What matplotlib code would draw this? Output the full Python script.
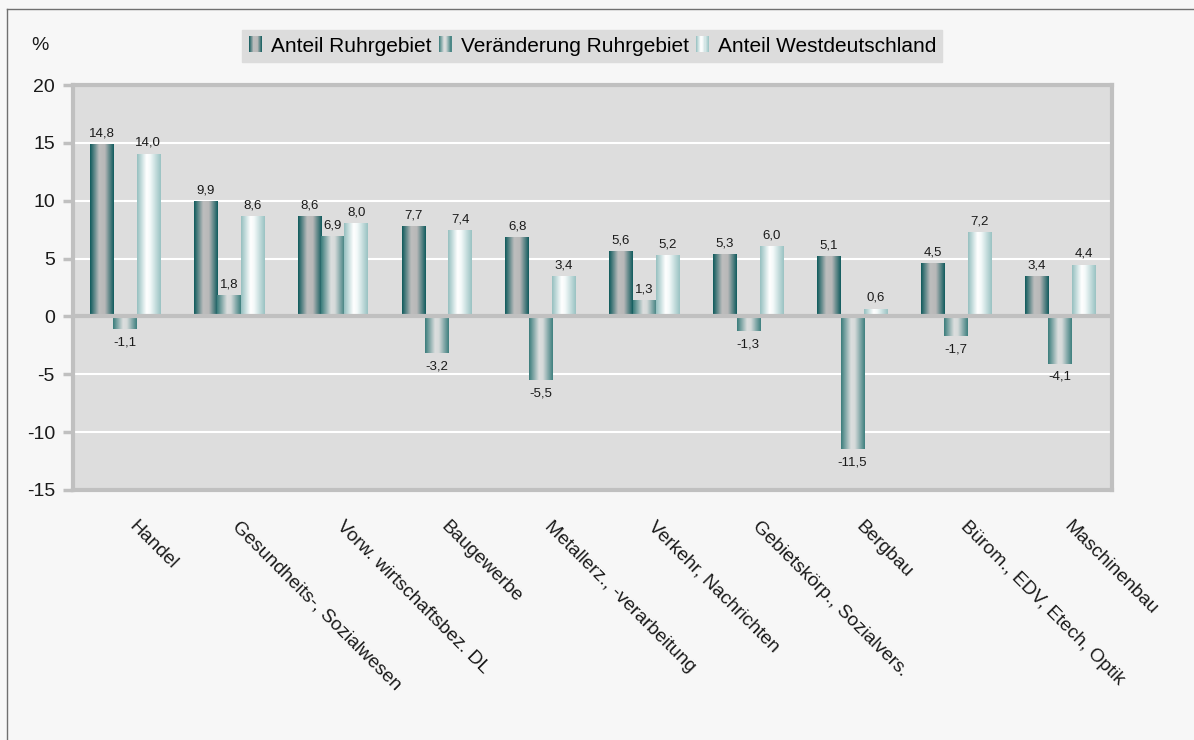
import matplotlib
matplotlib.use("Agg")
import matplotlib.pyplot as plt
import numpy as np
from matplotlib.colors import LinearSegmentedColormap
from matplotlib.legend_handler import HandlerBase
from matplotlib.lines import Line2D
from matplotlib.patches import Patch, Rectangle

CATEGORIES = [
    "Handel",
    "Gesundheits-, Sozialwesen",
    "Vorw. wirtschaftsbez. DL",
    "Baugewerbe",
    "Metallerz., -verarbeitung",
    "Verkehr, Nachrichten",
    "Gebietskörp., Sozialvers.",
    "Bergbau",
    "Bürom., EDV, Etech, Optik",
    "Maschinenbau",
]
SERIES_NAMES = ["Anteil Ruhrgebiet", "Veränderung Ruhrgebiet", "Anteil Westdeutschland"]
ANTEIL_RUHR = [14.8, 9.9, 8.6, 7.7, 6.8, 5.6, 5.3, 5.1, 4.5, 3.4]
VERAENDERUNG_RUHR = [-1.1, 1.8, 6.9, -3.2, -5.5, 1.3, -1.3, -11.5, -1.7, -4.1]
ANTEIL_WEST = [14.0, 8.6, 8.0, 7.4, 3.4, 5.2, 6.0, 0.6, 7.2, 4.4]
Y_TICKS = [-15, -10, -5, 0, 5, 10, 15, 20]

FIG_BG = "#f7f7f7"
PLOT_BG = "#dddddd"
FRAME = "#c0c0c0"
INK = "#1a1a1a"

GRADIENTS = [
    LinearSegmentedColormap.from_list("s1", [(0, "#0f5a5c"), (0.38, "#bdbdbd"),
                                             (0.62, "#b9b9b9"), (1, "#125c5e")]),
    LinearSegmentedColormap.from_list("s2", [(0, "#3b7d7c"), (0.42, "#dcdede"),
                                             (0.58, "#d6dada"), (1, "#3f807f")]),
    LinearSegmentedColormap.from_list("s3", [(0, "#96c0c0"), (0.4, "#ffffff"),
                                             (0.55, "#f4f9f9"), (1, "#9ac3c3")]),
]


def fill_gradient(ax, bars, cmap):
    grad = np.linspace(0, 1, 64).reshape(1, -1)
    for b in bars:
        x, y = b.get_x(), b.get_y()
        w, h = b.get_width(), b.get_height()
        ax.imshow(grad, cmap=cmap, aspect="auto", interpolation="bilinear",
                  extent=(x, x + w, y, y + h), zorder=2)
        b.set_facecolor("none")


class GradientHandler(HandlerBase):
    def create_artists(self, legend, orig_handle, xdescent, ydescent, width,
                       height, fontsize, trans):
        cmap = orig_handle.cmap
        n = 12
        w = 9.0
        h = height * 1.1
        x0 = xdescent + width - w - 2
        y0 = -ydescent - (h - height) / 2
        arts = []
        for i in range(n):
            arts.append(Rectangle((x0 + i * w / n, y0), w / n + 0.05, h,
                                  facecolor=cmap((i + 0.5) / n), edgecolor="none",
                                  transform=trans))
        return arts


plt.rcParams.update({
    "font.family": ["Liberation Sans", "DejaVu Sans"],
    "figure.facecolor": FIG_BG,
    "savefig.facecolor": FIG_BG,
})

fig = plt.figure(figsize=(11.94, 7.40), dpi=100)
ax = fig.add_axes([73 / 1194, 1 - 490 / 740, (1112 - 73) / 1194, (490 - 85) / 740])
ax.set_facecolor(PLOT_BG)

x = np.arange(len(CATEGORIES))
width = 0.225
series = [ANTEIL_RUHR, VERAENDERUNG_RUHR, ANTEIL_WEST]
for i, vals in enumerate(series):
    bars = ax.bar(x + (i - 1) * width, vals, width, linewidth=0, zorder=2)
    fill_gradient(ax, bars, GRADIENTS[i])
    for b, v in zip(bars, vals):
        cx = b.get_x() + b.get_width() / 2
        lbl = f"{v:.1f}".replace(".", ",")
        if v >= 0:
            ax.annotate(lbl, (cx, v), xytext=(0, 4), textcoords="offset points",
                        ha="center", va="bottom", fontsize=9.5, color=INK)
        else:
            ax.annotate(lbl, (cx, v), xytext=(0, -5), textcoords="offset points",
                        ha="center", va="top", fontsize=9.5, color=INK)

ax.set_xlim(-0.5, len(CATEGORIES) - 0.5)
ax.set_ylim(-15, 20)
ax.set_yticks(Y_TICKS)
ax.set_yticklabels([str(t) for t in Y_TICKS], fontsize=14, color=INK)
for t in Y_TICKS:
    if -15 < t < 20 and t != 0:
        ax.axhline(t, color="white", linewidth=1.5, zorder=1)
ax.axhline(0, color=FRAME, linewidth=3, zorder=3)

ax.set_xticks(x)
ax.set_xticklabels([])
ax.tick_params(axis="x", length=0)
ax.tick_params(axis="y", length=7, width=2.5, color=FRAME, pad=6)
for s in ax.spines.values():
    s.set_color(FRAME)
    s.set_linewidth(3)

for xi, name in zip(x, CATEGORIES):
    ax.annotate(name, (xi, -15), xytext=(9, -20), textcoords="offset points",
                rotation=-45, rotation_mode="anchor", ha="left", va="top",
                fontsize=13.8, color=INK, annotation_clip=False)

fig.text(40 / 1194, 1 - 46 / 740, "%", fontsize=14, color=INK, ha="center", va="center")

handles = [Patch(label=n) for n in SERIES_NAMES]
for h, cm in zip(handles, GRADIENTS):
    h.cmap = cm
leg = fig.legend(handles=handles, loc="center", bbox_to_anchor=(592 / 1194, 1 - 46 / 740),
                 ncol=3, frameon=True, fancybox=False, fontsize=15,
                 handler_map={Patch: GradientHandler()},
                 handlelength=0.8, handletextpad=0.3, columnspacing=0.3,
                 borderpad=0.3, borderaxespad=0)
leg.get_frame().set_facecolor("#dcdcdc")
leg.get_frame().set_edgecolor("#dcdcdc")
leg.get_frame().set_alpha(1)

fig.add_artist(Line2D([7 / 1194, 7 / 1194], [0, 1 - 9 / 740], color="#707070",
                      linewidth=1, transform=fig.transFigure))
fig.add_artist(Line2D([7 / 1194, 1], [1 - 9 / 740, 1 - 9 / 740], color="#707070",
                      linewidth=1, transform=fig.transFigure))

fig.savefig("out.png", dpi=100)
